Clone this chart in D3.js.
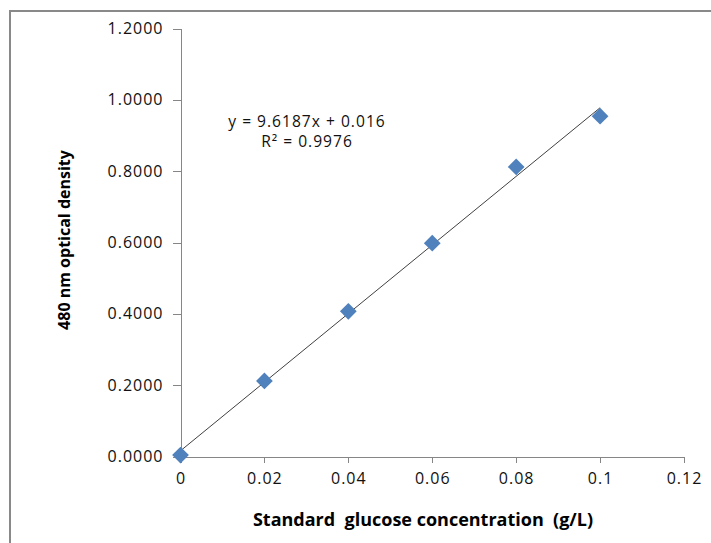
<!DOCTYPE html>
<head>
<meta charset="utf-8">
<style>
body { margin: 0; background: #fff; }
svg { display: block; }
.axis path, .axis line { stroke: #868686; shape-rendering: crispEdges; }
.axis text { font-family: "Open Sans", sans-serif; font-size: 16px; fill: #111; letter-spacing: 1px; }
.title { font-family: "Open Sans", sans-serif; font-weight: bold; fill: #000; }
.eq { font-family: "Open Sans", sans-serif; font-size: 15.6px; letter-spacing: 1px; fill: #111; }
</style>
</head>
<body>
<script src="https://cdn.jsdelivr.net/npm/d3@7"></script>
<script>

// the data
var concentrations = [0, 0.02, 0.04, 0.06, 0.08, 0.1];
var densities = [0.004, 0.212, 0.407, 0.598, 0.812, 0.954];
var xTicks = [0, 0.02, 0.04, 0.06, 0.08, 0.1, 0.12];
var yTicks = [0, 0.2, 0.4, 0.6, 0.8, 1.0, 1.2];
var slope = 9.6187, intercept = 0.016;
var eqLines = ["y = 9.6187x + 0.016", "R\u00b2 = 0.9976"];

var width = 711, height = 543;

var svg = d3.select("body").append("svg")
    .attr("width", width)
    .attr("height", height);

// outer chart border (right and bottom sit outside the picture)
svg.append("rect")
    .attr("x", 10).attr("y", 11)
    .attr("width", 800).attr("height", 600)
    .attr("fill", "none")
    .attr("stroke", "#898989")
    .attr("stroke-width", 2);

var x = d3.scaleLinear().domain([0, 0.12]).range([180.5, 684]);
var y = d3.scaleLinear().domain([0, 1.2]).range([456.5, 28.5]);

// axes
svg.append("g")
    .attr("class", "axis")
    .attr("transform", "translate(0," + y(0) + ")")
    .call(d3.axisBottom(x).tickValues(xTicks)
        .tickFormat(function(d) { return d3.format("")(+d.toFixed(2)); })
        .tickSizeInner(6).tickSizeOuter(0).tickPadding(10));

svg.append("g")
    .attr("class", "axis")
    .attr("transform", "translate(" + x(0) + ",0)")
    .call(d3.axisLeft(y).tickValues(yTicks)
        .tickFormat(d3.format(".4f"))
        .tickSizeInner(8).tickSizeOuter(0).tickPadding(9));

// linear trendline
var trend = d3.line()
    .x(function(d) { return x(d); })
    .y(function(d) { return y(slope * d + intercept); });

svg.append("path")
    .datum([0, 0.1])
    .attr("d", trend)
    .attr("fill", "none")
    .attr("stroke", "#404040")
    .attr("stroke-width", 1);

// diamond markers
var data = concentrations.map(function(c, i) { return {x: c, y: densities[i]}; });

svg.selectAll(".pt")
    .data(data)
  .enter().append("path")
    .attr("class", "pt")
    .attr("d", d3.symbol().type(d3.symbolSquare).size(140))
    .attr("transform", function(d) {
        return "translate(" + x(d.x) + "," + y(d.y) + ") rotate(45)";
    })
    .attr("fill", "#4F81BD");

// equation label
svg.selectAll(".eq")
    .data(eqLines)
  .enter().append("text")
    .attr("class", "eq")
    .attr("x", 307)
    .attr("y", function(d, i) { return 127 + i * 20; })
    .attr("text-anchor", "middle")
    .text(function(d) { return d; });

// axis titles
svg.append("text")
    .attr("class", "title")
    .attr("x", 423)
    .attr("y", 526)
    .attr("text-anchor", "middle")
    .style("font-size", "18px")
    .style("white-space", "pre")
    .text("Standard  glucose concentration  (g/L)");

svg.append("text")
    .attr("class", "title")
    .attr("transform", "translate(70,240) rotate(-90)")
    .attr("text-anchor", "middle")
    .style("font-size", "16px")
    .text("480 nm optical density");

</script>
</body>
